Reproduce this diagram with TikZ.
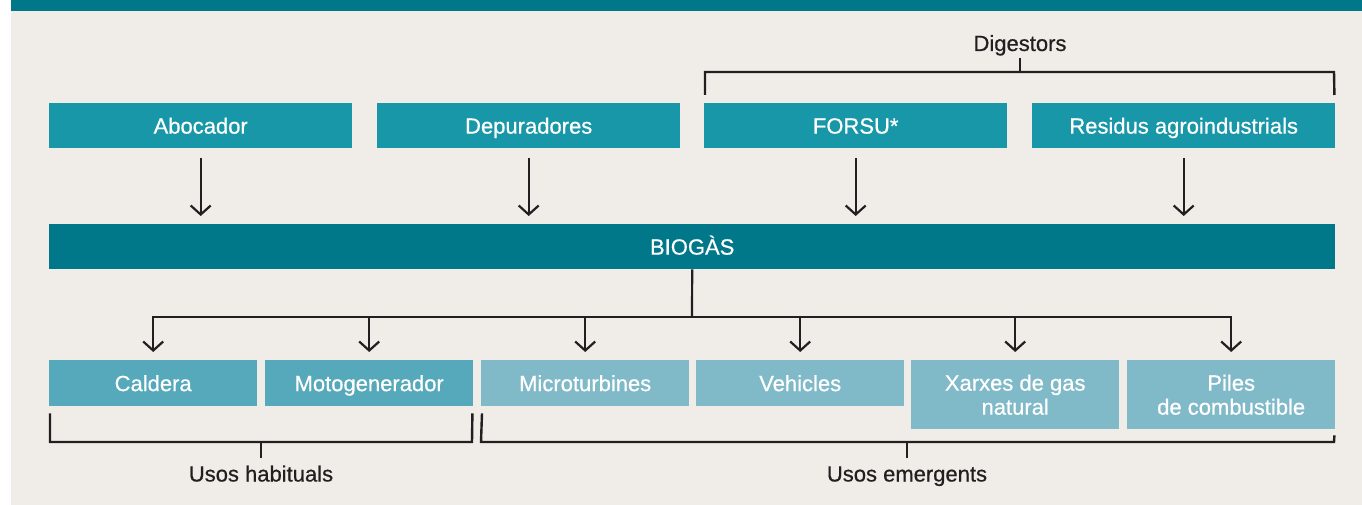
\documentclass[tikz,border=0pt]{standalone}
\usepackage{fontspec}
\setmainfont{Liberation Sans}
\newfontfamily\medfont[FakeBold=0.6]{Liberation Sans}
\usetikzlibrary{arrows.meta}
\definecolor{bgc}{HTML}{F0EDE8}
\definecolor{barc}{HTML}{00788A}
\definecolor{srcc}{HTML}{1797A8}
\definecolor{habc}{HTML}{55A9BA}
\definecolor{emec}{HTML}{80BAC8}
\definecolor{inkc}{HTML}{231F20}
\begin{document}
\begin{tikzpicture}[x=1pt,y=-1pt,
  lbl/.style={font=\medfont\fontsize{22}{24}\selectfont, text=white, inner sep=0pt, anchor=north west, align=center, text height=15.8pt, text depth=0pt},
  srcbox/.style={lbl, fill=srcc, minimum width=303pt, minimum height=45pt},
  gasbox/.style={lbl, fill=barc, minimum width=1286pt, minimum height=45pt},
  habbox/.style={lbl, fill=habc, minimum width=208pt, minimum height=46pt},
  emebox/.style={lbl, fill=emec, minimum width=208pt, minimum height=46pt},
  twobox/.style={lbl, fill=emec, minimum width=208pt, minimum height=69pt, text height=39.8pt},
  capt/.style={font=\medfont\fontsize{22}{24}\selectfont, text=inkc, inner sep=0pt, anchor=base},
  flow/.style={draw=inkc, line width=2.2pt, -{Straight Barb[length=9pt,width=20pt,line width=2.2pt]}},
  brk/.style={draw=inkc, line width=2.4pt}
]
\useasboundingbox (0,0) rectangle (1362,505);
\fill[white] (0,0) rectangle (11,505);
\fill[bgc] (11,0) rectangle (1362,505);
\fill[barc] (11,0) rectangle (1362,11);

% sources
\node[srcbox] (abocador) at (49,103) {Abocador};
\node[srcbox] (depur) at (377,103) {Depuradores};
\node[srcbox] (forsu) at (704,103) {FORSU*};
\node[srcbox] (residus) at (1032,103) {Residus agroindustrials};

% biogas
\node[gasbox] (biogas) at (49,224) {BIOGÀS};

% uses
\node[habbox] (caldera) at (49,360) {Caldera};
\node[habbox] (moto) at (265,360) {Motogenerador};
\node[emebox] (micro) at (481,360) {Microturbines};
\node[emebox] (vehicles) at (696,360) {Vehicles};
\node[twobox] (xarxes) at (911,360) {Xarxes de gas\\natural};
\node[twobox] (piles) at (1127,360) {Piles\\de combustible};

% arrows into biogas
\foreach \s in {abocador,depur,forsu,residus}
  \draw[flow, shorten <=10pt, shorten >=8pt] (\s.south) -- (\s.south |- biogas.north);

% distribution
\coordinate (hub) at (692,317);
\draw[flow, -] (biogas.south) -- (hub);
\draw[flow, -, line cap=rect] (hub -| caldera.north) -- (hub -| piles.north);
\foreach \u in {caldera,moto,micro,vehicles,xarxes,piles}
  \draw[flow, shorten >=8pt] (hub -| \u.north) -- (\u.north);

% Digestors bracket
\node[capt] (dig) at (1020,51) {Digestors};
\coordinate (dl) at (705,72);
\coordinate (dr) at (1334,72);
\draw[brk] ([xshift=1pt,yshift=8pt]forsu.north west) -- (dl) -- (dr) -- ([xshift=-1pt,yshift=8pt]residus.north east);
\draw[brk] (dig.base |- dl) -- ++(0,-14);

% Usos habituals bracket
\node[capt] (hab) at (261,481.5) {Usos habituals};
\coordinate (hl) at (50,442);
\coordinate (hr) at (472,442);
\draw[brk] ([xshift=1pt,yshift=-7pt]caldera.south west) -- (hl) -- (hr) -- ([xshift=-1pt,yshift=-7pt]moto.south east);
\draw[brk] (hab.base |- hl) -- ++(0,16);

% Usos emergents bracket
\node[capt] (eme) at (907,481.5) {Usos emergents};
\coordinate (el) at (481,442);
\coordinate (er) at (1334,442);
\draw[brk] ([xshift=1pt,yshift=-7pt]micro.south west) -- (el) -- (er) -- ([xshift=-1pt,yshift=-6pt]piles.south east);
\draw[brk] (eme.base |- el) -- ++(0,16);
\end{tikzpicture}
\end{document}
